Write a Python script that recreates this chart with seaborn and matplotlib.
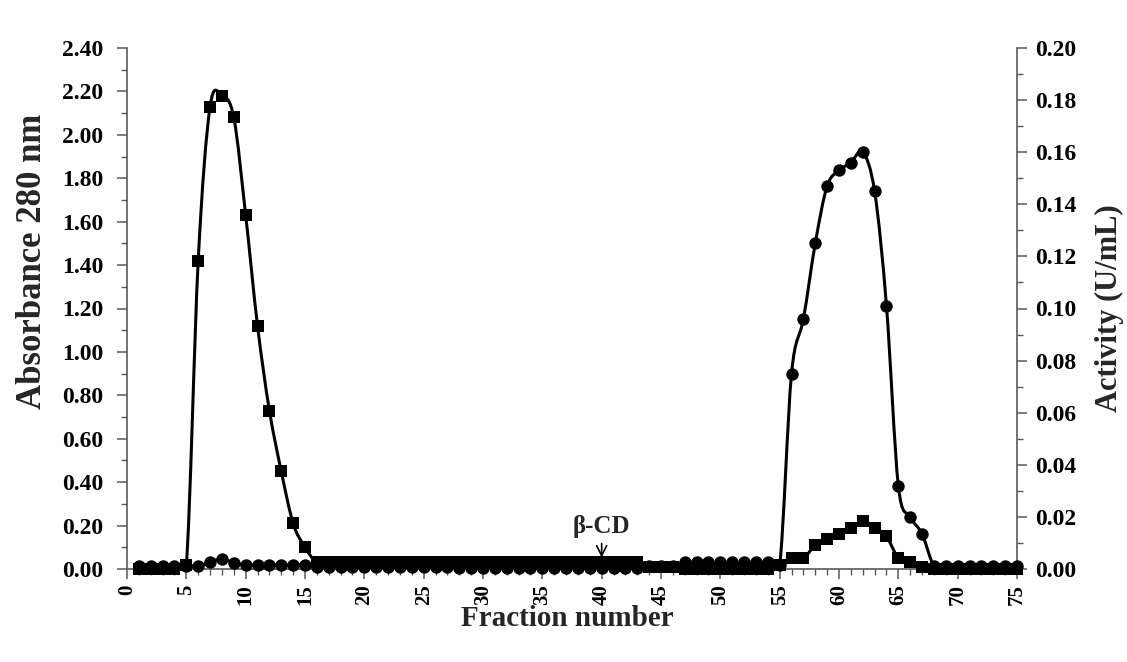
import numpy as np
import pandas as pd
import matplotlib
matplotlib.use("Agg")
import matplotlib.pyplot as plt
import matplotlib.ticker as ticker
from matplotlib.path import Path
from matplotlib.patches import PathPatch
import seaborn as sns

# fraction numbers and readings
fractions = list(range(1, 76))

absorbance = ([0.00] * 4 + [0.02, 1.42, 2.13, 2.18, 2.08, 1.63, 1.12, 0.73, 0.45, 0.21, 0.10]
              + [0.03] * 28 + [0.01] * 3 + [0.00] * 8
              + [0.02, 0.05, 0.05, 0.11, 0.14, 0.16, 0.19, 0.22, 0.19, 0.15, 0.05, 0.03, 0.01]
              + [0.00] * 8)

activity = ([0.0012] * 6 + [0.0025, 0.004, 0.0023] + [0.0015] * 6
            + [0.0008] * 12 + [0.0005] * 16 + [0.0012] * 3 + [0.0025] * 8
            + [0.0015, 0.075, 0.096, 0.125, 0.147, 0.153, 0.156, 0.160, 0.145, 0.101,
               0.032, 0.020, 0.0135]
            + [0.0012] * 8)

abs_ticks = np.arange(0, 2.41, 0.2)
act_ticks = np.arange(0, 0.201, 0.02)

sns.set_style("ticks")
plt.rcParams["font.family"] = ["Liberation Serif", "DejaVu Serif"]
plt.rcParams["font.weight"] = "bold"
plt.rcParams["axes.labelweight"] = "bold"


def smooth_path(x, y):
    """Excel-like smoothed line: Catmull-Rom segments drawn as cubic Beziers."""
    pts = np.column_stack([x, y]).astype(float)
    verts = [pts[0]]
    codes = [Path.MOVETO]
    n = len(pts)
    for i in range(n - 1):
        p0 = pts[i - 1] if i > 0 else pts[i]
        p1, p2 = pts[i], pts[i + 1]
        p3 = pts[i + 2] if i + 2 < n else pts[i + 1]
        verts += [p1 + (p2 - p0) / 6, p2 - (p3 - p1) / 6, p2]
        codes += [Path.CURVE4] * 3
    return Path(verts, codes)


df = pd.DataFrame({"fraction": fractions, "absorbance": absorbance, "activity": activity})

fig = plt.figure(figsize=(11.27, 6.62), dpi=100)
ax = fig.add_axes([127 / 1127, (662 - 569) / 662, 890 / 1127, 521 / 662])
ax2 = ax.twinx()

line_kw = dict(facecolor="none", edgecolor="black", linewidth=2.2, zorder=2)
ax.add_patch(PathPatch(smooth_path(df["fraction"], df["absorbance"]), **line_kw))
ax2.add_patch(PathPatch(smooth_path(df["fraction"], df["activity"]), **line_kw))

sns.scatterplot(data=df, x="fraction", y="absorbance", marker="s", s=85, color="black",
                edgecolor="black", linewidth=0, ax=ax, zorder=3, clip_on=False)
sns.scatterplot(data=df, x="fraction", y="activity", marker="o", s=80, color="black",
                edgecolor="black", linewidth=0, ax=ax2, zorder=3, clip_on=False)

ax.set_xlim(0, 75)
ax.set_ylim(0, 2.4)
ax2.set_ylim(0, 0.2)

ax.xaxis.set_major_locator(ticker.MultipleLocator(5))
ax.xaxis.set_minor_locator(ticker.MultipleLocator(1))
ax.set_yticks(abs_ticks)
ax.yaxis.set_minor_locator(ticker.MultipleLocator(0.1))
ax.yaxis.set_major_formatter(ticker.FormatStrFormatter("%.2f"))
ax2.set_yticks(act_ticks)
ax2.yaxis.set_minor_locator(ticker.MultipleLocator(0.01))
ax2.yaxis.set_major_formatter(ticker.FormatStrFormatter("%.2f"))

spine_col = "0.35"
for a in (ax, ax2):
    a.spines["top"].set_visible(False)
    for s in ("left", "right", "bottom"):
        a.spines[s].set_color(spine_col)
        a.spines[s].set_linewidth(1.2)
    a.tick_params(which="major", direction="out", length=7, width=1.1, color=spine_col,
                  labelsize=17, labelcolor="black")
    a.tick_params(which="minor", direction="out", length=4, width=1.0, color=spine_col)

ax.spines["right"].set_visible(False)
ax2.spines["left"].set_visible(False)
ax2.spines["bottom"].set_visible(False)
ax.tick_params(axis="x", labelrotation=90, pad=4, labelsize=15)
ax.tick_params(axis="y", pad=10)
ax2.tick_params(axis="y", pad=6)
for lab in ax.get_xticklabels() + ax.get_yticklabels() + ax2.get_yticklabels():
    lab.set_fontweight("bold")

ax.set_xlabel("Fraction number", fontsize=21)
ax.set_ylabel("Absorbance 280 nm", fontsize=25)
ax2.set_ylabel("Activity (U/mL)", fontsize=22)
ax2.yaxis.set_label_position("right")
ax.xaxis.set_label_coords(0.495, -0.07)
ax.yaxis.set_label_coords(-0.088, 0.59)
ax2.yaxis.set_label_coords(1.087, 0.5)

ax.annotate("β-CD", xy=(40, 0.04), xytext=(40, 0.145), ha="center", va="bottom",
            fontsize=18, fontweight="bold",
            arrowprops=dict(arrowstyle="->", color="black", lw=1.2))

fig.savefig("out.png", dpi=100)
